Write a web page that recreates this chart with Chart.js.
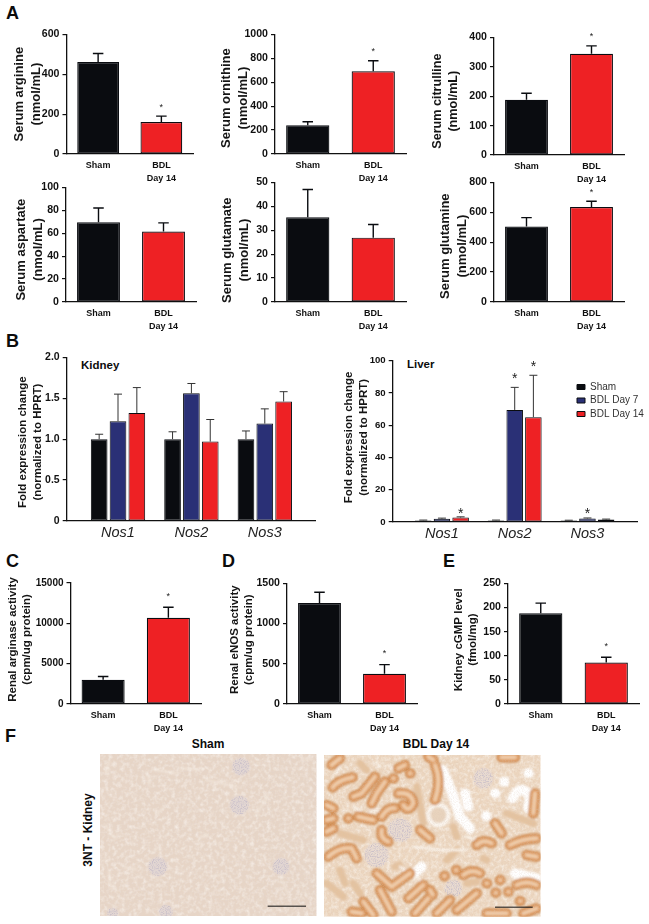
<!DOCTYPE html>
<html>
<head>
<meta charset="utf-8">
<title>Serum and kidney panels</title>
<script src="https://cdn.jsdelivr.net/npm/chart.js@4"></script>
<style>
  html, body { margin: 0; background: #fff; }
  body { position: relative; width: 649px; height: 924px; overflow: hidden; font-family: "Liberation Sans", Arial, sans-serif; color: #0c0c0c; }
  canvas, svg, .t { position: absolute; }
  .t { font-weight: bold; white-space: nowrap; line-height: 1; }
  .letter { font-size: 18px; }
  .note { font-size: 11.5px; }
  .head { font-size: 12px; transform: translateX(-50%); }
</style>
</head>
<body>
<div class="t letter" style="left:6px;top:4px">A</div>
<div class="t letter" style="left:6px;top:332px">B</div>
<div class="t letter" style="left:6px;top:552px">C</div>
<div class="t letter" style="left:222px;top:552px">D</div>
<div class="t letter" style="left:443px;top:552px">E</div>
<div class="t letter" style="left:5px;top:727px">F</div>
<div class="t note" style="left:81px;top:360px">Kidney</div>
<div class="t note" style="left:407px;top:359px">Liver</div>
<div class="t head" style="left:208px;top:738px">Sham</div>
<div class="t head" style="left:436px;top:738px">BDL Day 14</div>
<div class="t head" style="left:88px;top:830px;transform:translate(-50%,-50%) rotate(-90deg)">3NT - Kidney</div>

<svg id="shamImg" style="left:96px;top:750px" width="225" height="170" viewBox="0 0 675 510"></svg>
<svg id="bdlImg" style="left:320px;top:750px" width="225" height="170" viewBox="0 0 675 510"></svg>

<script>
// two bar panels
const shamBdl = ['Sham', ['BDL', 'Day 14']];
const arginine = [461, 160], arginineTop = [504, 190];
const ornithine = [241, 692], ornithineTop = [269, 780];
const citrulline = [188, 344], citrullineTop = [210, 371];
const aspartate = [69.5, 61.5], aspartateTop = [82, 69];
const glutamate = [35.4, 26.9], glutamateTop = [47, 32.4];
const glutamine = [505, 635], glutamineTop = [564, 674];
const arginase = [3000, 10700], arginaseTop = [3400, 12000];
const enos = [1255, 375], enosTop = [1390, 490];
const cgmp = [188, 86], cgmpTop = [209, 97];

// grouped panels
const genes = ['Nos1', 'Nos2', 'Nos3'];
const genePos = [1, 2, 3];
const groups = ['Sham', 'BDL Day 7', 'BDL Day 14'];
const kidneySham = [1.0, 1.0, 1.0], kidneyShamTop = [1.06, 1.09, 1.10];
const kidneyDay7 = [1.22, 1.56, 1.19], kidneyDay7Top = [1.55, 1.68, 1.37];
const kidneyDay14 = [1.32, 0.97, 1.46], kidneyDay14Top = [1.63, 1.24, 1.58];
const liverSham = [1.0, 1.0, 1.0], liverShamTop = [1.2, 1.2, 1.1];
const liverDay7 = [2.0, 69.5, 2.2], liverDay7Top = [2.4, 83.5, 2.5];
const liverDay14 = [2.8, 65, 1.5], liverDay14Top = [3.2, 91, 1.8];

const BLACK = '#0a0c10', RED = '#ee2124', BLUE = '#2a3076';

Chart.defaults.font.family = '"Liberation Sans", Arial, sans-serif';
Chart.defaults.color = '#111';
Chart.defaults.animation = false;

// error bars and stars, taken from dataset.tops / dataset.stars
const errorBars = {
  id: 'errorBars',
  afterDatasetsDraw(chart, args, opts) {
    const ctx = chart.ctx, y = chart.scales.y;
    chart.data.datasets.forEach((ds, d) => {
      chart.getDatasetMeta(d).data.forEach((bar, i) => {
        const top = y.getPixelForValue(ds.tops[i]);
        ctx.save();
        ctx.strokeStyle = opts.color;
        ctx.lineWidth = opts.width;
        ctx.beginPath();
        ctx.moveTo(bar.x, bar.y);
        ctx.lineTo(bar.x, top);
        ctx.moveTo(bar.x - opts.cap / 2, top);
        ctx.lineTo(bar.x + opts.cap / 2, top);
        ctx.stroke();
        if (ds.stars && ds.stars[i]) {
          ctx.fillStyle = '#222';
          ctx.font = opts.starFont;
          ctx.textAlign = 'center';
          ctx.textBaseline = 'middle';
          ctx.fillText('*', bar.x, top - ds.stars[i]);
        }
        ctx.restore();
      });
    });
  }
};

// puts the legend where the figure has it (canvas coordinates)
const legendAt = {
  id: 'legendAt',
  beforeDraw(chart, args, opts) {
    if (!opts.x) return;
    const l = chart.legend;
    l.left = opts.x; l.top = opts.y; l.right = opts.x + 90; l.bottom = opts.y + 60;
    l.width = 90; l.height = 60;
  }
};

function yAxis(p) {
  return {
    min: 0, max: p.max,
    ticks: { stepSize: p.step, padding: 3, font: { size: p.tickSize || 10.6, weight: 'bold' }, callback: p.fmt || (v => v) },
    grid: { drawOnChartArea: false, drawTicks: true, tickLength: 4, color: '#111', lineWidth: 1.2 },
    border: { color: '#111', width: 1.3 },
    title: {
      display: true, text: p.title, padding: 0, color: '#151515',
      font: { size: p.titleSize || 13, weight: 'bold', lineHeight: p.titleLine || 1.28 }
    },
    afterFit(s) {
      s.width = p.left - p.titleLeft;
      if (p.titleDy && !s.shifted) {
        const draw = s.drawTitle;
        s.drawTitle = function () {
          s.ctx.save();
          s.ctx.translate(0, p.titleDy);
          draw.call(s);
          s.ctx.restore();
        };
        s.shifted = true;
      }
    }
  };
}

function place(id, p) {
  const c = document.createElement('canvas');
  c.id = id;
  c.width = p.right - p.titleLeft + 8;
  c.height = p.bottom - p.top + 8 + 36;
  c.style.left = p.titleLeft + 'px';
  c.style.top = (p.top - 8) + 'px';
  document.body.appendChild(c);
  return c;
}

function twoBars(id, p, values, tops, stars) {
  new Chart(place(id, p), {
    type: 'bar',
    data: {
      labels: shamBdl,
      datasets: [{
        data: values, tops: tops, stars: stars,
        backgroundColor: [BLACK, RED], borderColor: BLACK, borderWidth: 1.2, borderSkipped: false,
        categoryPercentage: 1, barPercentage: 0.66
      }]
    },
    options: {
      responsive: false,
      layout: { padding: { top: 8, right: 8 } },
      plugins: {
        legend: { display: false }, tooltip: { enabled: false },
        errorBars: { color: BLACK, width: 1.4, cap: 10.5, starFont: '9px "Liberation Sans"' }
      },
      scales: {
        x: {
          grid: { display: false, drawTicks: false },
          border: { color: '#111', width: 1.3 },
          ticks: { padding: 5, maxRotation: 0, autoSkip: false, font: { size: 9, weight: 'bold', lineHeight: 1.45 } },
          afterFit(s) { s.height = 36; }
        },
        y: yAxis(p)
      }
    },
    plugins: [errorBars]
  });
}

function grouped(id, p, series, tops, stars, legend) {
  const colors = [BLACK, BLUE, RED];
  new Chart(place(id, p), {
    type: 'bar',
    data: {
      datasets: series.map((vals, s) => ({
        label: groups[s],
        data: vals.map((v, i) => ({ x: genePos[i], y: v })),
        tops: tops[s], stars: stars && stars[s],
        backgroundColor: colors[s], borderColor: BLACK, borderWidth: 1, borderSkipped: false,
        categoryPercentage: 0.77, barPercentage: 0.885
      }))
    },
    options: {
      responsive: false,
      layout: { padding: { top: 8, right: 8 } },
      plugins: {
        legend: legend ? {
          display: true, position: 'chartArea', align: 'start',
          labels: { boxWidth: 8, boxHeight: 5, padding: 3.5, color: '#333', font: { size: 10 } }
        } : { display: false },
        legendAt: legend || {},
        tooltip: { enabled: false },
        errorBars: { color: '#333', width: 1, cap: 8, starFont: '14px "Liberation Sans"' }
      },
      scales: {
        x: {
          type: 'linear', min: p.xMin, max: p.xMax, offset: false,
          afterBuildTicks(s) { s.ticks = genePos.map(v => ({ value: v })); },
          grid: { display: false, drawTicks: false, offset: false },
          border: { color: '#111', width: 1.3 },
          ticks: {
            padding: 3, autoSkip: false, maxRotation: 0, color: '#222',
            font: { size: 14.5, style: 'italic' },
            callback: v => genes[genePos.indexOf(v)]
          },
          afterFit(s) { s.height = 36; }
        },
        y: yAxis(p)
      }
    },
    plugins: [errorBars, legendAt]
  });
}

const STAR = 9, CSTAR = 11;
twoBars('arginine', { left: 66.5, right: 193, top: 32.7, bottom: 154, titleLeft: 11, max: 600, step: 200, title: ['Serum arginine', '(nmol/mL)'] }, arginine, arginineTop, [0, STAR]);
twoBars('ornithine', { left: 275, right: 406, top: 32.7, bottom: 154, titleLeft: 218, max: 1000, step: 200, title: ['Serum ornithine', '(nmol/mL)'], titleDy: 4 }, ornithine, ornithineTop, [0, STAR]);
twoBars('citrulline', { left: 494, right: 624, top: 36, bottom: 155.3, titleLeft: 429, titleSize: 12.6, max: 400, step: 100, title: ['Serum citrulline', '(nmol/mL)'], titleDy: 5 }, citrulline, citrullineTop, [0, STAR]);
twoBars('aspartate', { left: 66, right: 196.5, top: 186, bottom: 302, titleLeft: 13, max: 100, step: 20, title: ['Serum aspartate', '(nmol/mL)'], titleDy: 5 }, aspartate, aspartateTop, null);
twoBars('glutamate', { left: 275, right: 406, top: 181, bottom: 302.5, titleLeft: 219, max: 50, step: 10, title: ['Serum glutamate', '(nmol/mL)'], titleDy: 8 }, glutamate, glutamateTop, null);
twoBars('glutamine', { left: 494, right: 624, top: 181, bottom: 302, titleLeft: 437, max: 800, step: 200, title: ['Serum glutamine', '(nmol/mL)'], titleDy: 4 }, glutamine, glutamineTop, [0, STAR]);

grouped('kidney', { left: 66.7, right: 315, top: 356, bottom: 521.7, titleLeft: 16, max: 2, step: 0.5, tickSize: 10.5, titleSize: 11.5, titleLine: 1.27, titleDy: 3, xMin: 0.301, xMax: 3.684,
  fmt: v => v === 0 ? '0' : v.toFixed(1), title: ['Fold expression change', '(normalized to HPRT)'] },
  [kidneySham, kidneyDay7, kidneyDay14], [kidneyShamTop, kidneyDay7Top, kidneyDay14Top], null, null);
grouped('liver', { left: 392.7, right: 637.3, top: 360.3, bottom: 523.3, titleLeft: 342, max: 100, step: 20, tickSize: 9.6, titleSize: 11.5, titleLine: 1.27, titleDy: -4, xMin: 0.323, xMax: 3.681,
  title: ['Fold expression change', '(normalized to HPRT)'] },
  [liverSham, liverDay7, liverDay14], [liverShamTop, liverDay7Top, liverDay14Top],
  [[0, 0, 0], [0, 8.5, 4], [3, 8, 0]], { x: 231.5, y: 26.5 });

const lower = { top: 582, bottom: 704, titleSize: 11.5, titleLine: 1.28, titleDy: -4 };
twoBars('arginase', { ...lower, left: 70.5, right: 201, titleLeft: 5, tickSize: 10, max: 15000, step: 5000, title: ['Renal arginase activity', '(cpm/ug protein)'] }, arginase, arginaseTop, [0, CSTAR]);
twoBars('enos', { ...lower, left: 287, right: 417.5, titleLeft: 227, max: 1500, step: 500, title: ['Renal eNOS activity', '(cpm/ug protein)'] }, enos, enosTop, [0, CSTAR]);
twoBars('cgmp', { ...lower, left: 508, right: 639, titleLeft: 451, max: 250, step: 50, title: ['Kidney cGMP level', '(fmol/mg)'] }, cgmp, cgmpTop, [0, CSTAR]);

// micrographs of panel F, drawn by hand in crop coordinates
const SVGNS = 'http://www.w3.org/2000/svg';
function el(parent, name, attrs) {
  const e = document.createElementNS(SVGNS, name);
  for (const k in attrs) e.setAttribute(k, attrs[k]);
  parent.appendChild(e);
  return e;
}
const FULL = { filterUnits: 'userSpaceOnUse', x: 0, y: 0, width: 675, height: 510 };
function noise(svg, id, base, seed, rgb, gain, cut) {
  const f = el(svg, 'filter', { id: id, ...FULL });
  el(f, 'feTurbulence', { type: 'fractalNoise', baseFrequency: base, numOctaves: 2, seed: seed });
  el(f, 'feColorMatrix', { values: `0 0 0 0 ${rgb[0]}  0 0 0 0 ${rgb[1]}  0 0 0 0 ${rgb[2]}  ${gain} 0 0 0 ${cut}` });
  el(f, 'feGaussianBlur', { stdDeviation: 1.2 });
}
function blur(svg, id, dev) {
  const f = el(svg, 'filter', { id: id, ...FULL });
  el(f, 'feGaussianBlur', { stdDeviation: dev });
}
function grain(svg, id, seed) {
  const f = el(svg, 'filter', { id: id, ...FULL });
  el(f, 'feTurbulence', { type: 'fractalNoise', baseFrequency: 0.28, numOctaves: 1, seed: seed, result: 'n' });
  el(f, 'feColorMatrix', { in: 'n', values: '0 0 0 0 0.56  0 0 0 0 0.50  0 0 0 0 0.58  4 0 0 0 -1.8', result: 'dots' });
  el(f, 'feComposite', { in: 'dots', in2: 'SourceAlpha', operator: 'in', result: 'cut' });
  el(f, 'feGaussianBlur', { in: 'cut', stdDeviation: 1.2 });
}
const glomSham = [[435, 50, 26], [430, 165, 28], [185, 350, 28], [555, 350, 25], [210, 485, 20], [50, 490, 16]];
const paleSham = ['M40 35 Q28 55 35 75', 'M150 70 Q165 85 158 105', 'M480 195 L520 130', 'M625 26 L650 28', 'M30 225 Q40 250 60 265', 'M85 352 L120 358', 'M40 360 L40 400 L60 420', 'M350 378 L380 374', 'M175 300 L190 290', 'M560 395 L575 430', 'M310 262 L335 255', 'M175 60 L240 70', 'M250 55 L310 60', 'M330 90 L420 110', 'M185 190 L200 175'];
const tubules = ['M35 45 L60 25', 'M38 112 Q55 90 98 82', 'M100 140 L125 130 L165 80', 'M155 160 L170 130 L195 95', 'M220 85 l1 0', 'M235 55 L255 45', 'M270 70 l1 0', 'M345 45 Q365 90 345 150', 'M325 20 L340 30', 'M20 165 L40 175', 'M20 210 L40 205', 'M20 245 L40 235', 'M85 205 l1 0', 'M115 200 L160 210', 'M185 200 Q205 170 225 175', 'M235 130 Q275 125 280 160 Q265 190 250 165', 'M185 240 Q180 265 205 275', 'M330 265 L300 240', 'M25 320 Q60 290 95 295 L110 325', 'M170 370 L215 410 L270 370', 'M373 378 l1 0', 'M408 360 l1 0', 'M430 375 Q455 355 480 370', 'M470 285 Q490 265 515 280', 'M525 220 L545 250', 'M570 285 Q610 265 650 265', 'M620 315 L650 320', 'M265 445 L310 405', 'M285 490 L325 445', 'M350 490 L390 450', 'M410 480 L470 430', 'M180 420 L215 485', 'M130 455 L160 495', 'M95 485 L125 490', 'M500 400 l1 0', 'M540 390 l1 0', 'M527 428 l1 0', 'M565 425 l1 0', 'M600 453 l1 0', 'M590 405 Q620 390 650 405', 'M500 490 L560 490', 'M610 490 L650 475', 'M545 22 L585 22', 'M645 130 L640 190', 'M330 420 l8 14'];
const faint = ['M120 40 L140 60', 'M290 110 L310 220', 'M60 250 L130 270', 'M410 300 L380 330', 'M490 325 L500 330', 'M60 360 L75 400', 'M100 400 L120 430', 'M20 400 L70 440', 'M560 190 L640 220', 'M400 230 L410 260', 'M240 345 L225 350', 'M470 395 L440 400'];
const gloms = [[240, 240, 36], [170, 315, 36], [490, 85, 30], [400, 415, 26]];
const lumens = ['M368 60 L395 125 L420 200 L450 235', 'M435 130 L445 170', 'M498 198 l1 0', 'M552 95 l1 0', 'M625 70 l1 0', 'M578 145 Q600 100 630 135 L625 175', 'M305 350 L285 370', 'M585 370 L650 385', 'M525 130 l1 0'];
const hairline = ['M60 50 L50 70', 'M175 180 L150 185', 'M120 180 L100 170', 'M300 390 L240 350', 'M280 290 L360 300 L440 300', 'M440 260 L470 270', 'M45 245 L25 230', 'M170 40 L180 50', 'M205 45 L215 55'];

const sham = document.getElementById('shamImg');
noise(sham, 'shBlot', 0.08, 4, [0.95, 0.90, 0.85], 1.5, -0.62);
noise(sham, 'shFine', 0.3, 7, [0.76, 0.66, 0.64], 1.8, -0.78);
blur(sham, 'shBlur', 2.5);
grain(sham, 'shGrain', 5);
const clipS = el(sham, 'clipPath', { id: 'cs' });
el(clipS, 'rect', { x: 12, y: 12, width: 650, height: 486 });
const gs = el(sham, 'g', { 'clip-path': 'url(#cs)' });
el(gs, 'rect', { x: 12, y: 12, width: 650, height: 486, fill: '#e7d5c6' });
el(gs, 'rect', { x: 12, y: 12, width: 650, height: 486, filter: 'url(#shBlot)' });
el(gs, 'rect', { x: 12, y: 12, width: 650, height: 486, filter: 'url(#shFine)', opacity: 0.5 });
const paleG = el(gs, 'g', { filter: 'url(#shBlur)', opacity: 0.6 });
paleSham.forEach(d => el(paleG, 'path', { d: d, fill: 'none', stroke: '#f6eee4', 'stroke-width': 6, 'stroke-linecap': 'round' }));
glomSham.forEach(g => {
  el(gs, 'circle', { cx: g[0], cy: g[1], r: g[2], fill: '#e2d6d2', filter: 'url(#shBlur)' });
  el(gs, 'circle', { cx: g[0], cy: g[1], r: g[2], filter: 'url(#shGrain)', opacity: 0.75 });
});
el(sham, 'rect', { x: 515, y: 467, width: 115, height: 3, fill: '#111' });

const bdl = document.getElementById('bdlImg');
noise(bdl, 'bdBlot', 0.09, 9, [0.96, 0.91, 0.85], 1.6, -0.65);
noise(bdl, 'bdFine', 0.3, 3, [0.72, 0.56, 0.46], 2.0, -0.88);
blur(bdl, 'bdBlur', 2.5);
grain(bdl, 'bdGrain', 8);
const clipB = el(bdl, 'clipPath', { id: 'cb' });
el(clipB, 'rect', { x: 12, y: 15, width: 650, height: 485 });
const gb = el(bdl, 'g', { 'clip-path': 'url(#cb)' });
el(gb, 'rect', { x: 12, y: 15, width: 650, height: 485, fill: '#ecd6bf' });
el(gb, 'rect', { x: 12, y: 15, width: 650, height: 485, filter: 'url(#bdBlot)' });
gloms.forEach(g => {
  el(gb, 'circle', { cx: g[0], cy: g[1], r: g[2], fill: '#eadcd2', filter: 'url(#bdBlur)' });
  el(gb, 'circle', { cx: g[0], cy: g[1], r: g[2], filter: 'url(#bdGrain)', opacity: 0.8 });
});
const soft = el(gb, 'g', { filter: 'url(#bdBlur)' });
faint.forEach(d => el(soft, 'path', { d: d, fill: 'none', stroke: '#e4c3a0', 'stroke-width': 22, 'stroke-linecap': 'round' }));
lumens.forEach(d => el(soft, 'path', { d: d, fill: 'none', stroke: '#fff', 'stroke-width': 30, 'stroke-linecap': 'round', 'stroke-linejoin': 'round' }));
hairline.forEach(d => el(soft, 'path', { d: d, fill: 'none', stroke: '#faf4ec', 'stroke-width': 7, 'stroke-linecap': 'round' }));
el(soft, 'circle', { cx: 355, cy: 195, r: 30, fill: '#e8d3bd', stroke: '#fbf6f0', 'stroke-width': 12 });
[['#ca8040', 31], ['#e2a571', 22], ['#f1d0ae', 9]].forEach(s => {
  tubules.forEach(d => el(soft, 'path', { d: d, fill: 'none', stroke: s[0], 'stroke-width': s[1], 'stroke-linecap': 'round', 'stroke-linejoin': 'round' }));
});
el(gb, 'rect', { x: 12, y: 15, width: 650, height: 485, filter: 'url(#bdFine)', opacity: 0.4 });
el(bdl, 'rect', { x: 525, y: 470, width: 113, height: 3, fill: '#111' });
</script>
</body>
</html>
